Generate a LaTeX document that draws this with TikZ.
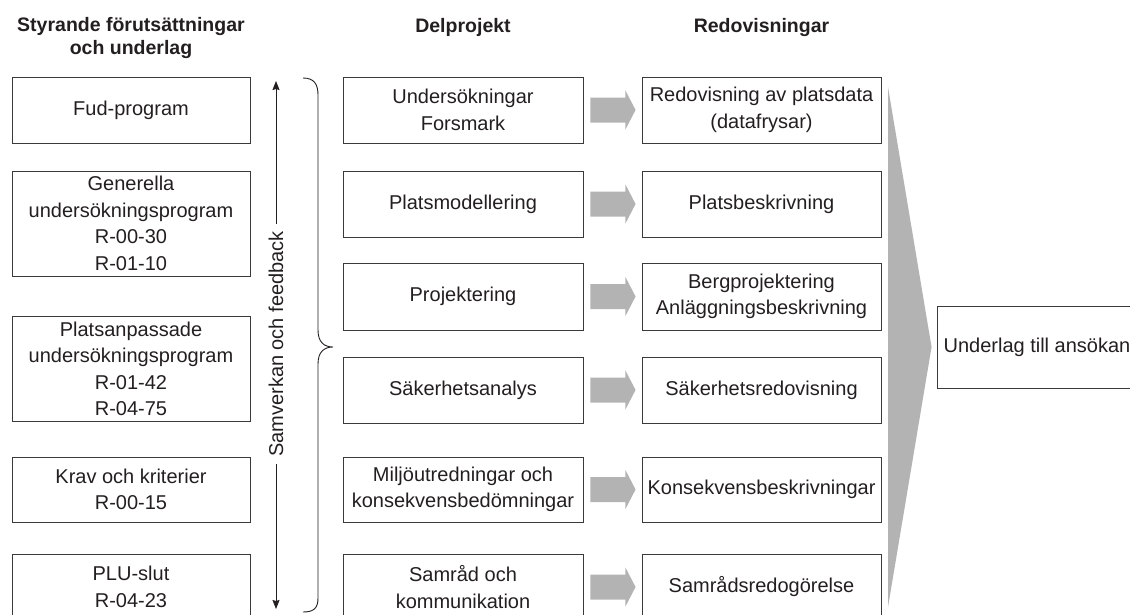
\documentclass[tikz,border=0pt]{standalone}
\usepackage{fontspec}
\setmainfont{Liberation Sans}
\usetikzlibrary{calc,arrows.meta}
\definecolor{boxline}{HTML}{3A3A3A}
\definecolor{txt}{HTML}{231F20}
\definecolor{garrow}{HTML}{B3B3B3}
\begin{document}
\begin{tikzpicture}[x=1pt,y=-1pt,
  box/.style={draw=boxline, line width=0.9pt, text=txt, align=center, inner sep=2pt,
    font=\fontsize{20}{26.5}\selectfont},
  lbox/.style={box, minimum width=238pt},
  mbox/.style={box, minimum width=240pt},
  rbox/.style={box, minimum width=239pt},
  hdr/.style={text=txt, align=center, inner sep=0pt, font=\fontsize{19.5}{23}\selectfont\bfseries},
  garr/.style={fill=garrow, draw=none},
  link/.style={draw=txt, line width=0.9pt},
]
\path[use as bounding box] (0,0) rectangle (1130,614);
\clip (0,0) rectangle (1130,614);

% headers
\node[hdr] (h1) at (131,38) {Styrande förutsättningar\\och underlag};
\node[hdr, anchor=base] (h2) at (463,32) {Delprojekt};
\node[hdr, anchor=base] (h3) at (761.5,32) {Redovisningar};

% left column
\node[lbox, minimum height=66pt] (l1) at (131,110) {Fud-program};
\node[lbox, minimum height=105pt] (l2) at (131,223.5) {Generella\\undersökningsprogram\\R-00-30\\R-01-10};
\node[lbox, minimum height=105pt] (l3) at (131,369) {Platsanpassade\\undersökningsprogram\\R-01-42\\R-04-75};
\node[lbox, minimum height=65pt] (l4) at (131,489.5) {Krav och kriterier\\R-00-15};
\node[lbox, minimum height=66pt] (l5) at (131,587) {PLU-slut\\R-04-23};

% middle column
\node[mbox, minimum height=66pt] (m1) at (463,110) {Undersökningar\\Forsmark};
\node[mbox, minimum height=66pt] (m2) at (463,204) {Platsmodellering};
\node[mbox, minimum height=67pt] (m3) at (463,296.5) {Projektering};
\node[mbox, minimum height=66pt] (m4) at (463,390) {Säkerhetsanalys};
\node[mbox, minimum height=65pt] (m5) at (463,489.5) {Miljöutredningar och\\konsekvensbedömningar};
\node[mbox, minimum height=66pt] (m6) at (463,587) {Samråd och\\kommunikation};

% right column
\node[rbox, minimum height=66pt] (r1) at (761.5,110) {Redovisning av platsdata\\(datafrysar)};
\node[rbox, minimum height=66pt] (r2) at (761.5,204) {Platsbeskrivning};
\node[rbox, minimum height=67pt] (r3) at (761.5,296.5) {Bergprojektering\\Anläggningsbeskrivning};
\node[rbox, minimum height=66pt] (r4) at (761.5,390) {Säkerhetsredovisning};
\node[rbox, minimum height=65pt] (r5) at (761.5,489.5) {Konsekvensbeskrivningar};
\node[rbox, minimum height=66pt] (r6) at (761.5,587) {Samrådsredogörelse};

% final box (its right side runs past the picture's edge, as in the reference)
\node[box, minimum width=200pt, minimum height=82pt] (u) at (1037,347) {Underlag till ansökan};

% grey arrows between middle and right
\foreach \i in {1,...,6}{
  \fill[garr] ($(m\i.east)+(7,-12.5)$) -- ++(35,0) -- ++(0,-7)
    -- ($(r\i.west)+(-6,0)$) -- ($(m\i.east)+(42,19.5)$) -- ++(0,-7) -- ++(-35,0) -- cycle;
}

% big grey triangle
\fill[garr] (888,87) -- ($(u.west)+(-5,0)$) -- (888,607) -- cycle;

% vertical interaction arrow
\coordinate (atop) at (276,81);
\coordinate (abot) at (276,609);
\node[rotate=90, text=txt, inner sep=7pt, font=\fontsize{20}{23.5}\selectfont] (sv) at (276,344) {Samverkan och feedback};
\draw[link, -{Stealth[length=9pt,width=7pt,inset=1pt]}] (sv.east) -- (atop);
\draw[link, -{Stealth[length=9pt,width=7pt,inset=1pt]}] (sv.west) -- (abot);

% brace
\draw[link] (303,78) .. controls (314,78) and (318,84) .. (318,95) -- (318,330)
  .. controls (318,342) and (324,347) .. (333,347)
  .. controls (324,347) and (318,352) .. (318,364) -- (318,598)
  .. controls (318,608) and (314,612) .. (303,612);
\end{tikzpicture}
\end{document}
